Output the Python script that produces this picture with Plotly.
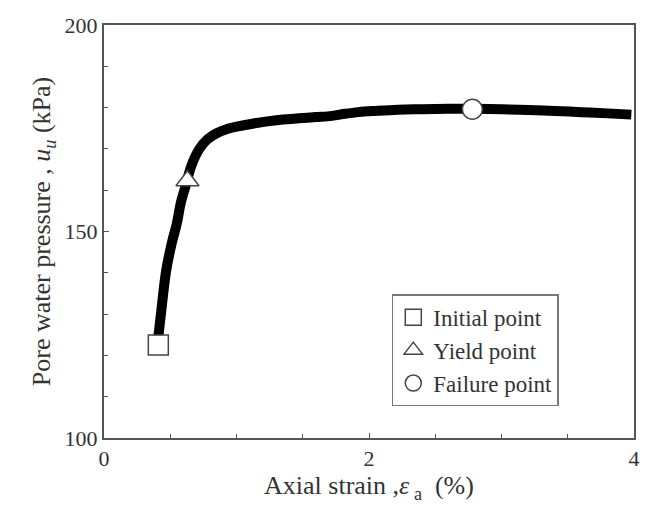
import plotly.graph_objects as go

strain = [0.41, 0.44, 0.47, 0.51, 0.55, 0.58, 0.62, 0.66, 0.72, 0.78, 0.85, 0.93, 1.02, 1.12, 1.22, 1.35, 1.47, 1.6, 1.72, 1.82, 1.92, 2.05, 2.22, 2.4, 2.6, 2.78, 3.0, 3.2, 3.4, 3.6, 3.8, 3.98]
pwp = [124.5, 133.0, 140.7, 147.0, 152.0, 157.0, 161.5, 166.0, 170.0, 172.3, 173.8, 174.8, 175.5, 176.1, 176.6, 177.1, 177.4, 177.7, 178.0, 178.5, 178.9, 179.2, 179.5, 179.6, 179.7, 179.7, 179.6, 179.4, 179.2, 178.9, 178.6, 178.3]

init_x, init_y = [0.41], [122.5]
yield_x, yield_y = [0.63], [162.3]
fail_x, fail_y = [2.78], [179.6]

font = "Liberation Serif, Times New Roman, serif"
axcol = "#555555"

fig = go.Figure()
fig.add_trace(go.Scatter(x=strain, y=pwp, mode="lines",
                         line=dict(color="black", width=10, shape="spline"),
                         showlegend=False, hoverinfo="skip"))
fig.add_trace(go.Scatter(x=init_x, y=init_y, mode="markers", name="Initial point",
                         marker=dict(symbol="square", size=20, color="white",
                                     line=dict(color="#444444", width=1.5))))
fig.add_trace(go.Scatter(x=yield_x, y=yield_y, mode="markers", name="Yield point",
                         marker=dict(symbol="triangle-up", size=20, color="white",
                                     line=dict(color="#444444", width=1.5))))
fig.add_trace(go.Scatter(x=fail_x, y=fail_y, mode="markers", name="Failure point",
                         marker=dict(symbol="circle", size=20, color="white",
                                     line=dict(color="#444444", width=1.5))))

fig.update_layout(
    width=652, height=516,
    margin=dict(l=104, r=16, t=25, b=78),
    paper_bgcolor="white", plot_bgcolor="white",
    font=dict(family=font, size=22, color="#333333"),
    legend=dict(x=0.543, y=0.348, xanchor="left", yanchor="top",
                bordercolor="#777777", borderwidth=1.5, bgcolor="white",
                font=dict(family=font, size=23, color="#333333"),
                itemsizing="trace", tracegroupgap=0),
    xaxis=dict(range=[0, 4], tickvals=[0, 2, 4], ticktext=["0", "2", "4"],
               ticks="inside", ticklen=5, tickcolor=axcol,
               minor=dict(dtick=0.5, ticks="inside", ticklen=4, tickcolor=axcol, showgrid=False),
               showline=True, linecolor=axcol, linewidth=2, mirror=True,
               showgrid=False, zeroline=False,
               title=dict(text="Axial strain ,<i>ε</i><sub> a</sub>  (%)", standoff=4),
               tickfont=dict(size=22)),
    yaxis=dict(range=[100, 200], tickvals=[100, 150, 200],
               ticks="inside", ticklen=5, tickcolor=axcol,
               minor=dict(dtick=10, ticks="inside", ticklen=4, tickcolor=axcol, showgrid=False),
               showline=True, linecolor=axcol, linewidth=2, mirror=True,
               showgrid=False, zeroline=False,
               title=dict(text="Pore water pressure , <i>u</i><sub><i>u</i></sub> (kPa)", standoff=6),
               tickfont=dict(size=22)),
)

fig.write_html("out.html")
